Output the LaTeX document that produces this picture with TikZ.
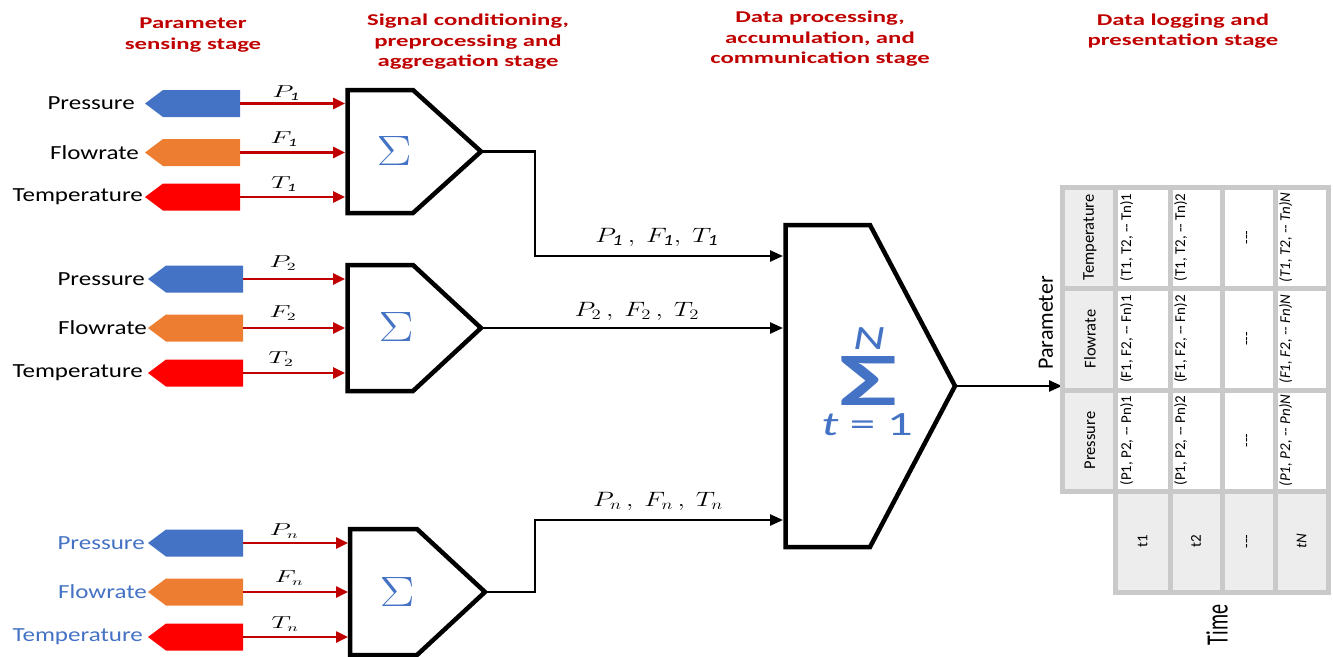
\documentclass[tikz,border=0pt]{standalone}
\usepackage{fontspec}
\usepackage{graphicx}
\setmainfont{Carlito}
\newfontfamily\hdrfont[FakeStretch=1.5]{Carlito}
\newfontfamily\lblfont[FakeStretch=1.25]{Carlito}
\usetikzlibrary{arrows.meta}
\definecolor{dred}{HTML}{C00000}
\definecolor{sblue}{HTML}{4472C4}
\definecolor{sorange}{HTML}{ED7D31}
\definecolor{sred}{HTML}{FF0000}
\definecolor{tgray}{HTML}{C9C9C9}
\definecolor{tfill}{HTML}{EDEDED}
\newcommand\hy{\mbox{-}}
\newcommand\sensorshape[6]{%
  \fill[#4] (#2,#3) -- (#2+18,#3-13.5) -- (#2+95,#3-13.5) -- (#2+95,#3+13.5) -- (#2+18,#3+13.5) -- cycle;
  \coordinate (#1) at (#2+95,#3);
  \node[lbl,anchor=east] (#1l) at (#6,#3) {#5};
}
\newcommand\sumblock[6]{%
  \draw[blockline] (#2,#3) -- (#5,#3) -- (#6,{(#3+#4)/2}) -- (#5,#4) -- (#2,#4) -- cycle;
  \coordinate (#1tip) at (#6,{(#3+#4)/2});
}
\newcommand\mlab[1]{\scalebox{1.6}[1]{$#1$}}
\newcommand\clab[1]{\scalebox{1.3}[1]{$#1$}}
\begin{document}
\begin{tikzpicture}[x=1pt,y=-1pt,
  lbl/.style={font=\lblfont\fontsize{20}{24}\selectfont, inner sep=0pt},
  hdr/.style={font=\hdrfont\bfseries\fontsize{16.5}{20.5}\selectfont, text=dred, align=center, inner sep=0pt},
  sig/.style={line width=2.5pt, dred, -{Triangle[length=12pt,width=11pt]}},
  blk/.style={line width=2.5pt, black, -{Triangle[length=13pt,width=11pt]}},
  blockline/.style={line width=4.5pt, line join=miter},
  mlbl/.style={inner sep=0pt, font=\fontsize{16}{19}\selectfont},
  clbl/.style={inner sep=0pt, font=\fontsize{22}{26}\selectfont},
  cell/.style={draw=tgray, line width=5pt},
  tcell/.style={rotate=90, inner sep=0pt, font=\fontsize{15}{18}\selectfont},
  thcell/.style={rotate=90, inner sep=0pt, font=\fontsize{16.5}{20}\selectfont},
  ttcell/.style={rotate=90, inner sep=0pt, font=\fontsize{15}{18}\selectfont},
  smallsig/.style={inner sep=0pt, text=sblue, font=\fontsize{42}{48}\selectfont},
]
\useasboundingbox (0,0) rectangle (1333,656);

% headers
\node[hdr] (h1) at (193,35) {Parameter\\sensing stage};
\node[hdr] (h2) at (468,42) {Signal conditioning,\\preprocessing and\\aggregation stage};
\node[hdr] (h3) at (820,39) {Data processing,\\accumulation, and\\communication stage};
\node[hdr] (h4) at (1183,31) {Data logging and\\presentation stage};

% group 1
\sensorshape{s1p}{145}{103.5}{sblue}{Pressure}{135}
\sensorshape{s1f}{145}{152.5}{sorange}{Flowrate}{139}
\sensorshape{s1t}{145}{197}{sred}{Temperature}{143}
\sumblock{b1}{347.5}{90}{213}{413}{481}
\coordinate (b1p) at (345,103.5);
\coordinate (b1f) at (345,152.5);
\coordinate (b1t) at (345,197);
\draw[sig] (s1p) -- (b1p);
\draw[sig] (s1f) -- (b1f);
\draw[sig] (s1t) -- (b1t);
\node[mlbl] (l1p) at (286,93) {\mlab{P_{\mathit{1}}}};
\node[mlbl] (l1f) at (284,139) {\mlab{F_{\mathit{1}}}};
\node[mlbl] (l1t) at (284,184) {\mlab{T_{\mathit{1}}}};
\node[smallsig] (sg1) at (394,151) {\resizebox*{35pt}{29pt}{$\Sigma$}};

% group 2
\sensorshape{s2p}{148}{279}{sblue}{Pressure}{145}
\sensorshape{s2f}{148}{328}{sorange}{Flowrate}{147}
\sensorshape{s2t}{148}{373}{sred}{Temperature}{143}
\sumblock{b2}{347.5}{265}{391}{413}{481}
\coordinate (b2p) at (345,279);
\coordinate (b2f) at (345,328);
\coordinate (b2t) at (345,373);
\draw[sig] (s2p) -- (b2p);
\draw[sig] (s2f) -- (b2f);
\draw[sig] (s2t) -- (b2t);
\node[mlbl] (l2p) at (283,263) {\mlab{P_{2}}};
\node[mlbl] (l2f) at (283,313) {\mlab{F_{2}}};
\node[mlbl] (l2t) at (281,359) {\mlab{T_{2}}};
\node[smallsig] (sg2) at (396,327) {\resizebox*{35pt}{29pt}{$\Sigma$}};

% group n
\sensorshape{s3p}{148}{543}{sblue}{\textcolor{sblue}{Pressure}}{145}
\sensorshape{s3f}{148}{592}{sorange}{\textcolor{sblue}{Flowrate}}{147}
\sensorshape{s3t}{148}{637}{sred}{\textcolor{sblue}{Temperature}}{143}
\sumblock{b3}{350}{529}{655}{417}{485}
\coordinate (b3p) at (348,543);
\coordinate (b3f) at (348,592);
\coordinate (b3t) at (348,637);
\draw[sig] (s3p) -- (b3p);
\draw[sig] (s3f) -- (b3f);
\draw[sig] (s3t) -- (b3t);
\node[mlbl] (l3p) at (284,531) {\mlab{P_{n}}};
\node[mlbl] (l3f) at (289,578) {\mlab{F_{n}}};
\node[mlbl] (l3t) at (285,624) {\mlab{T_{n}}};
\node[smallsig] (sg3) at (397,592) {\resizebox*{35pt}{29pt}{$\Sigma$}};

% big block
\sumblock{B}{785.5}{225}{547}{870}{955}
\coordinate (Bin1) at (783,256);
\coordinate (Bin2) at (783,328);
\coordinate (Bin3) at (783,520);
\draw[blk] (b1tip) -- ++(54,0) |- (Bin1);
\draw[blk] (b2tip) -- (Bin2);
\draw[blk] (b3tip) -- ++(50,0) |- (Bin3);
\node[clbl] (c1) at (657,237) {\clab{P_{\mathit{1}}\,,\ F_{\mathit{1}},\ T_{\mathit{1}}}};
\node[clbl] (c2) at (637,311) {\clab{P_{2}\,,\ F_{2}\,,\ T_{2}}};
\node[clbl] (c3) at (658,501) {\clab{P_{n}\,,\ F_{n}\,,\ T_{n}}};
\node[inner sep=0pt, text=sblue, font=\bfseries\fontsize{40}{48}\selectfont] (bigsum) at (868,381) {\resizebox*{58pt}{49pt}{Σ}};
\node[inner sep=0pt, text=sblue, font=\fontsize{34}{40}\selectfont] (bigN) at (869,339) {\scalebox{1.45}[1]{\itshape N}};
\node[inner sep=0pt, text=sblue, font=\fontsize{34}{40}\selectfont] (bigt) at (867,425) {\scalebox{1.5}[1]{\textit{t} = 1}};

% table
\coordinate (tin) at (1062,386);
\draw[blk] (Btip) -- (tin);
\node[rotate=90, inner sep=0pt, font=\fontsize{22}{26}\selectfont] (parlab) at (1046,323) {Parameter};
\node[rotate=90, inner sep=0pt, font=\fontsize{31}{36}\selectfont] (timelab) at (1217,625) {\scalebox{0.65}[1]{Time}};

\fill[tfill] (1062,187) rectangle (1115,491);
\fill[tfill] (1115,491) rectangle (1328,592);
\fill[white] (1115,187) rectangle (1328,491);
\foreach \ya/\yb in {187/288,288/390,390/491}{
  \draw[cell] (1062,\ya) rectangle (1115,\yb);
  \foreach \xa/\xb in {1115/1170,1170/1222,1222/1275,1275/1328}{
    \draw[cell] (\xa,\ya) rectangle (\xb,\yb);
  }
}
\foreach \xa/\xb in {1115/1170,1170/1222,1222/1275,1275/1328}{
  \draw[cell] (\xa,491) rectangle (\xb,592);
}
% header column
\node[thcell] (rT) at (1090,237.5) {Temperature};
\node[thcell] (rF) at (1090,339) {Flowrate};
\node[thcell] (rP) at (1090,440.5) {Pressure};
% data
\node[tcell,anchor=north] (d11) at (1120,237.5) {(T1, T2, \hy\hy\ Tn)1};
\node[tcell,anchor=north] (d12) at (1174,237.5) {(T1, T2, \hy\hy\ Tn)2};
\node[tcell] (d13) at (1248.5,237.5) {\hy\hy\hy};
\node[tcell,anchor=north] (d14) at (1279,237.5) {\itshape (T1, T2, \hy\hy\ Tn)N};
\node[tcell,anchor=north] (d21) at (1120,339) {(F1, F2, \hy\hy\ Fn)1};
\node[tcell,anchor=north] (d22) at (1174,339) {(F1, F2, \hy\hy\ Fn)2};
\node[tcell] (d23) at (1248.5,339) {\hy\hy\hy};
\node[tcell,anchor=north] (d24) at (1279,339) {\itshape (F1, F2, \hy\hy\ Fn)N};
\node[tcell,anchor=north] (d31) at (1120,440.5) {(P1, P2, \hy\hy\ Pn)1};
\node[tcell,anchor=north] (d32) at (1174,440.5) {(P1, P2, \hy\hy\ Pn)2};
\node[tcell] (d33) at (1248.5,440.5) {\hy\hy\hy};
\node[tcell,anchor=north] (d34) at (1279,440.5) {\itshape (P1, P2, \hy\hy\ Pn)N};
% time row
\node[ttcell] (t1) at (1142.5,541.5) {t1};
\node[ttcell] (t2) at (1196,541.5) {t2};
\node[ttcell] (t3) at (1248.5,541.5) {\hy\hy\hy};
\node[ttcell] (t4) at (1301.5,541.5) {\itshape tN};
\end{tikzpicture}
\end{document}
